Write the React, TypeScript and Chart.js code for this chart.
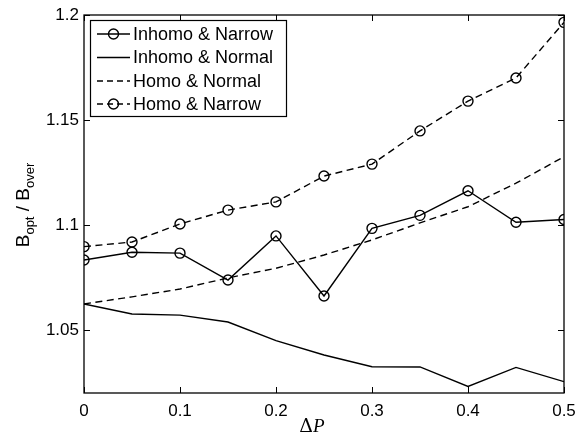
import { useEffect, useRef } from "react";
import { Chart, registerables } from "chart.js";

Chart.register(...registerables);

const xValues = [0, 0.05, 0.1, 0.15, 0.2, 0.25, 0.3, 0.35, 0.4, 0.45, 0.5];
const inhomoNarrow = [1.0833, 1.087, 1.0866, 1.0738, 1.0948, 1.0662, 1.0984, 1.1046, 1.1163, 1.1013, 1.1026];
const inhomoNormal = [1.0624, 1.0576, 1.0571, 1.0538, 1.0449, 1.0381, 1.0325, 1.0324, 1.0231, 1.0322, 1.0254];
const homoNormal = [1.0624, 1.0658, 1.0695, 1.0748, 1.0794, 1.0857, 1.0929, 1.101, 1.1087, 1.1199, 1.1325];
const homoNarrow = [1.0897, 1.0919, 1.1005, 1.1071, 1.111, 1.1233, 1.129, 1.1448, 1.159, 1.170, 1.1965];
const seriesNames = ["Inhomo & Narrow", "Inhomo & Normal", "Homo & Normal", "Homo & Narrow"];
const seriesDashed = [false, false, true, true];
const seriesMarkers = [true, false, false, true];
const xTicks = [0, 0.1, 0.2, 0.3, 0.4, 0.5];
const yTicks = [1.05, 1.1, 1.15, 1.2];
const xMin = 0;
const xMax = 0.5;
const yMin = 1.02;
const yMax = 1.2;

const FONT = "'Liberation Sans', Arial, Helvetica, sans-serif";
const DASH = [7, 4.5];
const LW = 1.4;

const overlay = {
  id: "matlabOverlay",
  afterDraw(chart: any) {
    const ctx = chart.ctx as CanvasRenderingContext2D;
    const a = chart.chartArea;
    const xs = chart.scales.x;
    const ys = chart.scales.y;
    ctx.save();
    ctx.strokeStyle = "#000";
    ctx.lineWidth = 1.3;
    ctx.setLineDash([]);
    ctx.strokeRect(a.left, a.top, a.right - a.left, a.bottom - a.top);
    const tl = 6;
    ctx.lineWidth = 1;
    ctx.beginPath();
    xTicks.forEach((v) => {
      const px = Math.round(xs.getPixelForValue(v)) + 0.5;
      ctx.moveTo(px, a.bottom);
      ctx.lineTo(px, a.bottom - tl);
      ctx.moveTo(px, a.top);
      ctx.lineTo(px, a.top + tl);
    });
    yTicks.forEach((v) => {
      const py = Math.round(ys.getPixelForValue(v)) + 0.5;
      ctx.moveTo(a.left, py);
      ctx.lineTo(a.left + tl, py);
      ctx.moveTo(a.right, py);
      ctx.lineTo(a.right - tl, py);
    });
    ctx.stroke();

    // legend
    const lx = 90, ly = 20, lw = 196, lh = 96;
    ctx.fillStyle = "#fff";
    ctx.fillRect(lx, ly, lw, lh);
    ctx.lineWidth = 1.2;
    ctx.strokeRect(lx + 0.5, ly + 0.5, lw, lh);
    const rowY = [34, 57.5, 81, 104];
    seriesNames.forEach((name, i) => {
      const y = rowY[i];
      ctx.strokeStyle = "#000";
      ctx.lineWidth = LW;
      ctx.setLineDash(seriesDashed[i] ? [6, 4] : []);
      ctx.beginPath();
      ctx.moveTo(97, y);
      ctx.lineTo(130, y);
      ctx.stroke();
      ctx.setLineDash([]);
      if (seriesMarkers[i]) {
        ctx.beginPath();
        ctx.arc(113.5, y, 5, 0, Math.PI * 2);
        ctx.stroke();
      }
      ctx.fillStyle = "#000";
      ctx.font = `18px ${FONT}`;
      ctx.textBaseline = "middle";
      ctx.textAlign = "left";
      ctx.fillText(name, 133, y + 1);
    });

    // y title: B_opt / B_over
    ctx.save();
    ctx.translate(29, 205);
    ctx.rotate(-Math.PI / 2);
    const parts: [string, boolean][] = [["B", false], ["opt", true], [" / ", false], ["B", false], ["over", true]];
    const big = `19px ${FONT}`;
    const small = `13px ${FONT}`;
    let total = 0;
    parts.forEach(([t, s]) => {
      ctx.font = s ? small : big;
      total += ctx.measureText(t).width;
    });
    let cx = -total / 2;
    ctx.textBaseline = "alphabetic";
    ctx.textAlign = "left";
    ctx.fillStyle = "#000";
    parts.forEach(([t, s]) => {
      ctx.font = s ? small : big;
      ctx.fillText(t, cx, s ? 5 : 0);
      cx += ctx.measureText(t).width;
    });
    ctx.restore();

    // x title: ΔP
    const d = "Δ";
    const p = "P";
    ctx.font = `19px 'DejaVu Serif', 'Liberation Serif', serif`;
    const dw = ctx.measureText(d).width;
    ctx.font = `italic 19px 'Liberation Serif', 'DejaVu Serif', serif`;
    const pw = ctx.measureText(p).width;
    const startX = 312 - (dw + pw) / 2;
    ctx.textBaseline = "alphabetic";
    ctx.font = `19px 'DejaVu Serif', 'Liberation Serif', serif`;
    ctx.fillText(d, startX, 432);
    ctx.font = `italic 19px 'Liberation Serif', 'DejaVu Serif', serif`;
    ctx.fillText(p, startX + dw, 432);
    ctx.restore();
  },
};

export default function App() {
  const ref = useRef<HTMLCanvasElement | null>(null);
  useEffect(() => {
    document.body.style.margin = "0";
    const series = [inhomoNarrow, inhomoNormal, homoNormal, homoNarrow];
    const chart = new Chart(ref.current as HTMLCanvasElement, {
      type: "line",
      data: {
        datasets: series.map((arr, i) => ({
          label: seriesNames[i],
          data: xValues.map((x, j) => ({ x, y: arr[j] })),
          borderColor: "#000",
          borderWidth: LW,
          borderDash: seriesDashed[i] ? DASH : [],
          pointRadius: seriesMarkers[i] ? 5 : 0,
          pointStyle: "circle",
          pointBackgroundColor: "rgba(0,0,0,0)",
          pointBorderColor: "#000",
          pointBorderWidth: LW,
          fill: false,
          tension: 0,
        })),
      },
      options: {
        animation: false,
        responsive: false,
        devicePixelRatio: 1,
        layout: { padding: { top: 15, right: 13, left: 0, bottom: 0 } },
        plugins: { legend: { display: false }, tooltip: { enabled: false } },
        scales: {
          x: {
            type: "linear",
            min: xMin,
            max: xMax,
            afterBuildTicks: (s: any) => {
              s.ticks = xTicks.map((v) => ({ value: v }));
            },
            afterFit: (s: any) => {
              s.height = 42;
              s.paddingLeft = 0;
              s.paddingRight = 0;
            },
            grid: { display: false, drawTicks: false },
            border: { display: false },
            ticks: {
              color: "#000",
              font: { family: FONT, size: 17 },
              padding: 8,
              maxRotation: 0,
              callback: (v: any) => String(v),
            },
          },
          y: {
            type: "linear",
            min: yMin,
            max: yMax,
            afterBuildTicks: (s: any) => {
              s.ticks = yTicks.map((v) => ({ value: v }));
            },
            afterFit: (s: any) => {
              s.width = 84;
              s.paddingTop = 0;
              s.paddingBottom = 0;
            },
            grid: { display: false, drawTicks: false },
            border: { display: false },
            ticks: {
              color: "#000",
              font: { family: FONT, size: 17 },
              padding: 5,
              callback: (v: any) => String(v),
            },
          },
        },
      },
      plugins: [overlay],
    });
    return () => chart.destroy();
  }, []);
  return (
    <div style={{ width: 577, height: 435 }}>
      <canvas ref={ref} width={577} height={435} style={{ display: "block" }} />
    </div>
  );
}
